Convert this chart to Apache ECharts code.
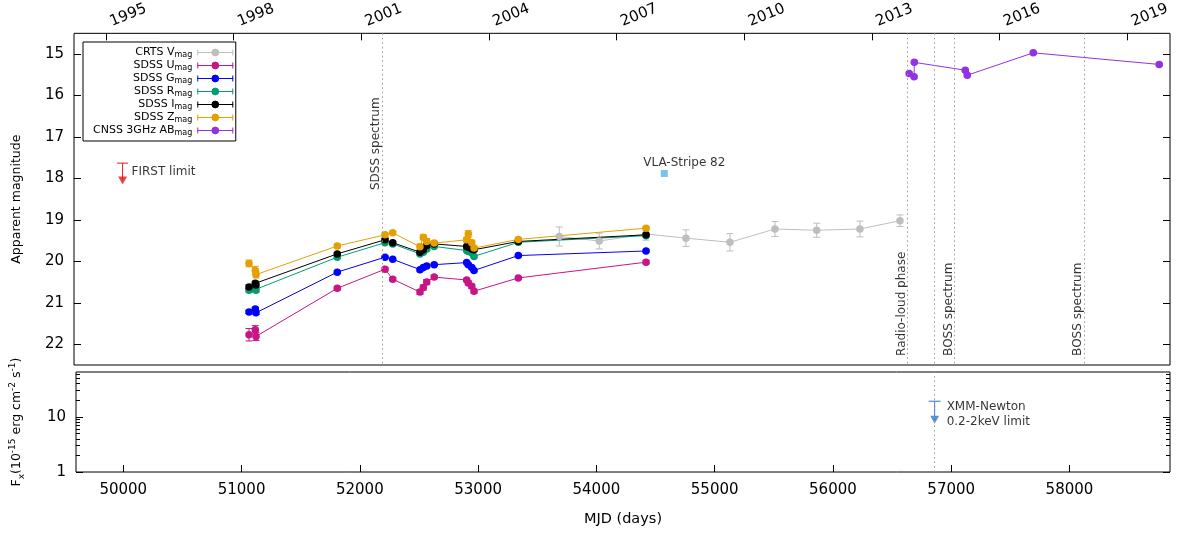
<!DOCTYPE html>
<html><head><meta charset="utf-8">
<script src="https://cdn.jsdelivr.net/npm/echarts@6/dist/echarts.min.js"></script>
<style>html,body{margin:0;padding:0;background:#fff}#c{width:1200px;height:536px}</style>
</head><body><div id="c"></div>
<script>
// ---------------- data ----------------
const sdssMJD = [51077, 51130, 51136, 51822, 52225, 52290, 52520, 52548, 52577, 52640, 52914, 52928, 52957, 52976, 53350, 54428];
const sdssU = [21.77, 21.65, 21.81, 20.65, 20.19, 20.43, 20.74, 20.63, 20.50, 20.38, 20.45, 20.52, 20.60, 20.72, 20.40, 20.02];
const sdssUerr = [0.15, 0.10, 0.10, 0.04, 0.04, 0.04, 0.06, 0.06, 0.06, 0.04, 0.04, 0.05, 0.05, 0.05, 0.03, 0.04];
const sdssG = [21.22, 21.15, 21.24, 20.26, 19.90, 19.95, 20.20, 20.15, 20.11, 20.08, 20.03, 20.08, 20.15, 20.22, 19.86, 19.75];
const sdssGerr = [0.04, 0.04, 0.04, 0.03, 0.02, 0.02, 0.03, 0.03, 0.03, 0.02, 0.02, 0.03, 0.03, 0.03, 0.02, 0.02];
const sdssR = [20.70, 20.68, 20.70, 19.90, 19.55, 19.58, 19.82, 19.78, 19.70, 19.64, 19.74, 19.76, 19.80, 19.88, 19.54, 19.38];
const sdssRerr = [0.04, 0.04, 0.04, 0.03, 0.02, 0.02, 0.03, 0.03, 0.03, 0.02, 0.02, 0.03, 0.03, 0.03, 0.02, 0.02];
const sdssI = [20.62, 20.53, 20.57, 19.82, 19.48, 19.55, 19.78, 19.72, 19.62, 19.58, 19.64, 19.66, 19.70, 19.72, 19.52, 19.36];
const sdssIerr = [0.05, 0.05, 0.05, 0.03, 0.03, 0.03, 0.04, 0.04, 0.04, 0.03, 0.03, 0.04, 0.04, 0.04, 0.03, 0.03];
const sdssZ = [20.05, 20.22, 20.32, 19.63, 19.36, 19.31, 19.65, 19.42, 19.52, 19.56, 19.48, 19.34, 19.55, 19.68, 19.47, 19.20];
const sdssZerr = [0.08, 0.10, 0.08, 0.05, 0.05, 0.04, 0.07, 0.06, 0.07, 0.05, 0.06, 0.08, 0.06, 0.05, 0.04, 0.04];

const crtsMJD = [53696, 54033, 54427, 54765, 55136, 55516, 55868, 56233, 56571];
const crtsV = [19.40, 19.51, 19.34, 19.44, 19.54, 19.22, 19.25, 19.22, 19.02];
const crtsVerr = [0.23, 0.19, 0.15, 0.20, 0.21, 0.18, 0.17, 0.19, 0.14];

const cnssMJD = [56649, 56690, 56692, 57122, 57139, 57696, 58759];
const cnssAB = [15.47, 15.55, 15.20, 15.39, 15.51, 14.97, 15.25];
const cnssErr = [0.03, 0.03, 0.03, 0.03, 0.03, 0.03, 0.03];

const firstMJD = [50010];
const firstLimitMag = [17.63];
const firstMarkMag = [18.05];

const vlaMJD = [54582];
const vlaMag = [17.88];

const xmmMJD = [56860];
const xmmLimitFlux = [19.2];
const xmmMarkFlux = [8.9];

const eventMJD = [52200, 56636, 56860, 57033, 58126];
const eventLabels = ['SDSS spectrum', 'Radio-loud phase', '', 'BOSS spectrum', 'BOSS spectrum'];

const yearTicks = [1995, 1998, 2001, 2004, 2007, 2010, 2013, 2016, 2019];
const mjdTicks = [50000, 51000, 52000, 53000, 54000, 55000, 56000, 57000, 58000];
const magTicks = [15, 16, 17, 18, 19, 20, 21, 22];
const fluxMajor = [1, 10];
const fluxMinor = [2, 3, 4, 5, 6, 7, 8, 9, 20, 30, 40, 50, 60];

const seriesNames = ['CRTS V', 'SDSS U', 'SDSS G', 'SDSS R', 'SDSS I', 'SDSS Z', 'CNSS 3GHz AB'];

// ---------------- styles ----------------
const colors = ['#bebebe', '#c71585', '#0000ff', '#009e73', '#000000', '#e69f00', '#9232e0'];
const FONT = 'DejaVu Sans';

const sets = [
  [crtsMJD, crtsV, crtsVerr],
  [sdssMJD, sdssU, sdssUerr],
  [sdssMJD, sdssG, sdssGerr],
  [sdssMJD, sdssR, sdssRerr],
  [sdssMJD, sdssI, sdssIerr],
  [sdssMJD, sdssZ, sdssZerr],
  [cnssMJD, cnssAB, cnssErr]
];

function errRender(capHalf, color, capLow) {
  return function (params, api) {
    const x = api.value(0), lo = api.value(1), hi = api.value(2);
    const a = api.coord([x, lo]), b = api.coord([x, hi]);
    const st = { stroke: color, lineWidth: 1 };
    const ch = [
      { type: 'line', shape: { x1: a[0], y1: a[1], x2: b[0], y2: b[1] }, style: st },
      { type: 'line', shape: { x1: b[0] - capHalf, y1: b[1], x2: b[0] + capHalf, y2: b[1] }, style: st }
    ];
    if (capLow) ch.push({ type: 'line', shape: { x1: a[0] - capHalf, y1: a[1], x2: a[0] + capHalf, y2: a[1] }, style: st });
    return { type: 'group', children: ch };
  };
}

const series = [];
sets.forEach((s, i) => {
  const [xs, ys, es] = s;
  series.push({
    type: 'custom', name: 'err' + i, xAxisIndex: 0, yAxisIndex: 0, silent: true,
    renderItem: errRender(3.5, colors[i], true),
    encode: { x: 0, y: [1, 2] },
    data: xs.map((x, k) => [x, ys[k] - es[k], ys[k] + es[k]])
  });
  series.push({
    type: 'line', name: seriesNames[i], xAxisIndex: 0, yAxisIndex: 0,
    data: xs.map((x, k) => [x, ys[k]]),
    symbol: 'circle', symbolSize: 7.5, showSymbol: true,
    itemStyle: { color: colors[i] }, lineStyle: { color: colors[i], width: 1 },
    emphasis: { disabled: true }, silent: true
  });
});

// FIRST limit
series.push({
  type: 'custom', name: 'firstErr', xAxisIndex: 0, yAxisIndex: 0, silent: true,
  renderItem: errRender(5.5, '#e41a1c', false),
  encode: { x: 0, y: [1, 2] },
  data: firstMJD.map((x, k) => [x, firstMarkMag[k], firstLimitMag[k]])
});
series.push({
  type: 'scatter', name: 'first', xAxisIndex: 0, yAxisIndex: 0, silent: true,
  symbol: 'triangle', symbolRotate: 180, symbolSize: [9, 8],
  itemStyle: { color: '#e41a1c' },
  data: firstMJD.map((x, k) => [x, firstMarkMag[k]])
});
// VLA
series.push({
  type: 'scatter', name: 'vla', xAxisIndex: 0, yAxisIndex: 0, silent: true,
  symbol: 'rect', symbolSize: 7, itemStyle: { color: '#56b4e9' },
  data: vlaMJD.map((x, k) => [x, vlaMag[k]]),
  label: { show: true, formatter: 'VLA-Stripe 82', position: 'top', distance: 1, offset: [20, 0], fontSize: 12, color: '#000', fontFamily: FONT }
});

// annotations + event lines (upper)
const noteData = [{ value: [firstMJD[0], 17.84], label: { formatter: 'FIRST limit', position: 'right', distance: 9 } }];
eventMJD.forEach((m, k) => {
  if (!eventLabels[k]) return;
  noteData.push({
    value: [m, k === 0 ? 18.28 : 22.28],
    label: { formatter: eventLabels[k], position: [0, 0], rotate: 90, align: 'left', verticalAlign: 'bottom' }
  });
});
series.push({
  type: 'scatter', name: 'notes', xAxisIndex: 0, yAxisIndex: 0, silent: true,
  symbolSize: 0, data: noteData,
  label: { show: true, fontSize: 12, color: '#000', fontFamily: FONT },
  markLine: {
    silent: true, symbol: ['none', 'none'], animation: false,
    label: { show: false },
    lineStyle: { color: '#999', type: [1.5, 3], width: 1 },
    emphasis: { disabled: true },
    data: eventMJD.map(v => ({ xAxis: v }))
  }
});

// lower panel: XMM
series.push({
  type: 'custom', name: 'xmmErr', xAxisIndex: 2, yAxisIndex: 2, silent: true,
  renderItem: errRender(6, '#2f78d0', false),
  encode: { x: 0, y: [1, 2] },
  data: xmmMJD.map((x, k) => [x, xmmMarkFlux[k], xmmLimitFlux[k]])
});
series.push({
  type: 'scatter', name: 'xmm', xAxisIndex: 2, yAxisIndex: 2, silent: true,
  symbol: 'triangle', symbolRotate: 180, symbolSize: [9, 8],
  itemStyle: { color: '#2f78d0' },
  data: xmmMJD.map((x, k) => [x, xmmMarkFlux[k]]),
  markLine: {
    silent: true, symbol: ['none', 'none'], animation: false,
    label: { show: false },
    lineStyle: { color: '#999', type: [1.5, 3], width: 1 },
    emphasis: { disabled: true },
    data: xmmMJD.map(v => ({ xAxis: v }))
  }
});
series.push({
  type: 'scatter', name: 'xmmNote', xAxisIndex: 2, yAxisIndex: 2, silent: true,
  symbolSize: 0,
  data: [{ value: [xmmMJD[0], 11], label: { formatter: 'XMM-Newton\n0.2-2keV limit', position: 'right', distance: 12, lineHeight: 15 } }],
  label: { show: true, fontSize: 12, color: '#000', fontFamily: FONT }
});

const noLine = { show: false };
const tickIn = (vals, len) => ({ show: true, inside: true, length: len, customValues: vals, lineStyle: { color: '#000', width: 1 } });
const intFmt = v => String(Math.round(v));

const option = {
  animation: false,
  textStyle: { fontFamily: FONT },
  grid: [
    { left: 74, right: 30, top: 33, height: 332, show: true, borderColor: '#000', borderWidth: 1 },
    { left: 74, right: 30, top: 372, height: 100, show: true, borderColor: '#000', borderWidth: 1 }
  ],
  xAxis: [
    { type: 'value', gridIndex: 0, min: 49600, max: 58850, show: false },
    { type: 'value', gridIndex: 0, position: 'top', min: 1994.25, max: 2020, axisLine: noLine, splitLine: { show: false },
      axisTick: tickIn(yearTicks, 7),
      axisLabel: { customValues: yearTicks, formatter: intFmt, rotate: -22, align: 'left', verticalAlign: 'bottom', margin: 1, padding: [0, 0, 0, 8], fontSize: 15, color: '#000' } },
    { type: 'value', gridIndex: 1, position: 'bottom', min: 49600, max: 58850, axisLine: noLine, splitLine: { show: false },
      axisTick: tickIn(mjdTicks, 7),
      axisLabel: { customValues: mjdTicks, formatter: intFmt, margin: 11, fontSize: 15, color: '#000' },
      name: 'MJD (days)', nameLocation: 'middle', nameGap: 40, nameTextStyle: { fontSize: 14.5, color: '#000' } }
  ],
  yAxis: [
    { type: 'value', gridIndex: 0, position: 'left', inverse: true, min: 14.5, max: 22.5, axisLine: noLine, splitLine: { show: false },
      axisTick: tickIn(magTicks, 7),
      axisLabel: { customValues: magTicks, formatter: intFmt, margin: 10, fontSize: 15, color: '#000' },
      name: 'Apparent magnitude', nameLocation: 'middle', nameGap: 51, nameTextStyle: { fontSize: 12.5, color: '#000' } },
    { type: 'value', gridIndex: 0, position: 'right', inverse: true, min: 14.5, max: 22.5, axisLine: noLine, splitLine: { show: false },
      axisTick: tickIn(magTicks, 7), axisLabel: { show: false } },
    { type: 'log', gridIndex: 1, position: 'left', min: 1, max: 65, axisLine: noLine, splitLine: { show: false },
      axisTick: tickIn(fluxMajor, 7),
      axisLabel: { customValues: fluxMajor, formatter: intFmt, margin: 10, fontSize: 15, color: '#000' },
      name: 'F{sub|x}(10{sup|-15} erg cm{sup|-2} s{sup|-1})', nameLocation: 'middle', nameGap: 50,
      nameTextStyle: { fontSize: 12.5, color: '#000', lineHeight: 18,
        rich: { sub: { fontSize: 9, lineHeight: 9, verticalAlign: 'bottom', color: '#000' },
                sup: { fontSize: 9, lineHeight: 9, verticalAlign: 'top', color: '#000' } } } },
    { type: 'log', gridIndex: 1, position: 'left', min: 1, max: 65, axisLine: noLine, splitLine: { show: false },
      axisTick: tickIn(fluxMinor, 4), axisLabel: { show: false } },
    { type: 'log', gridIndex: 1, position: 'right', min: 1, max: 65, axisLine: noLine, splitLine: { show: false },
      axisTick: tickIn(fluxMajor, 7), axisLabel: { show: false } },
    { type: 'log', gridIndex: 1, position: 'right', min: 1, max: 65, axisLine: noLine, splitLine: { show: false },
      axisTick: tickIn(fluxMinor, 4), axisLabel: { show: false } }
  ],
  legend: {
    left: 83, top: 42, orient: 'vertical', align: 'right',
    padding: [4, 2, 4, 10], itemGap: 0, itemWidth: 36, itemHeight: 7,
    borderColor: '#000', borderWidth: 1, backgroundColor: '#fff',
    selectedMode: false,
    icon: 'path://M0,3.5L36,3.5M0.5,0.5L0.5,6.5M35.5,0.5L35.5,6.5M14.6,3.5A3.4,3.4,0,1,0,21.4,3.5A3.4,3.4,0,1,0,14.6,3.5Z',
    data: seriesNames.map((n, i) => ({ name: n, itemStyle: { color: colors[i], borderColor: colors[i], borderWidth: 1 } })),
    formatter: n => n + '{sub|mag}',
    textStyle: { fontSize: 11, lineHeight: 13, color: '#000', fontFamily: FONT,
      rich: { sub: { fontSize: 8, lineHeight: 8, verticalAlign: 'bottom', color: '#000', fontFamily: FONT } } }
  },
  series: series
};

const chart = echarts.init(document.getElementById('c'), null, { renderer: 'canvas' });
chart.setOption(option);
</script></body></html>
